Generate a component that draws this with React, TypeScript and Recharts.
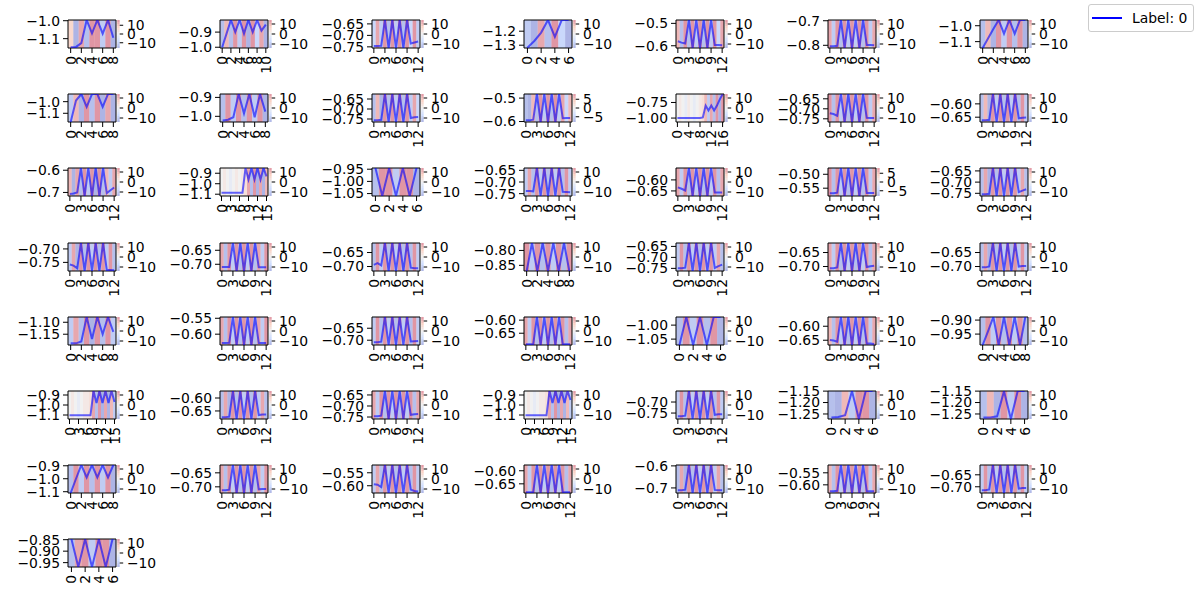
import React from 'react';
import { ComposedChart, Line, XAxis, YAxis, ReferenceArea, Legend } from 'recharts';

// ---------- data ----------
const seriesValues: number[][] = [
  [-1.148, -1.146, -1.125, -0.996, -1.07, -0.996, -1.072, -0.996, -1.095],
  [-1.0, -0.91, -0.82, -0.9, -0.82, -0.91, -0.82, -0.9, -0.82, -0.89, -0.85],
  [-0.746, -0.746, -0.745, -0.633, -0.755, -0.633, -0.755, -0.633, -0.755, -0.633, -0.735, -0.731, -0.727],
  [-1.318, -1.27, -1.21, -1.12, -1.24, -1.12, -1.12],
  [-0.58, -0.586, -0.59, -0.485, -0.61, -0.485, -0.61, -0.485, -0.61, -0.485, -0.597, -0.597, -0.598],
  [-0.804, -0.804, -0.802, -0.697, -0.811, -0.697, -0.811, -0.697, -0.811, -0.697, -0.799, -0.799, -0.8],
  [-1.14, -1.08, -1.02, -0.964, -1.05, -0.964, -1.05, -0.964, -0.964],
  [-1.175, -0.99, -0.934, -1.045, -0.934, -0.934, -1.045, -0.934, -0.934],
  [-1.022, -1.018, -1.005, -0.882, -0.985, -0.882, -1.005, -0.882, -0.975],
  [-0.756, -0.756, -0.754, -0.625, -0.765, -0.625, -0.765, -0.625, -0.765, -0.625, -0.745, -0.741, -0.74],
  [-0.595, -0.595, -0.592, -0.4825, -0.602, -0.4825, -0.602, -0.4825, -0.602, -0.4825, -0.586, -0.585, -0.585],
  [-1.0, -1.0, -1.0, -1.0, -1.0, -1.0, -1.0, -1.0, -1.0, -0.99, -0.8, -0.88, -0.8, -0.88, -0.8, -0.7, -0.62],
  [-0.722, -0.726, -0.735, -0.626, -0.766, -0.626, -0.766, -0.626, -0.766, -0.626, -0.745, -0.746, -0.746],
  [-0.661, -0.661, -0.66, -0.563, -0.668, -0.563, -0.668, -0.563, -0.668, -0.563, -0.654, -0.652, -0.651],
  [-0.707, -0.705, -0.7, -0.59, -0.716, -0.59, -0.716, -0.59, -0.716, -0.59, -0.703, -0.69, -0.678],
  [-1.085, -1.085, -1.085, -1.085, -1.085, -1.085, -1.085, -1.085, -0.85, -0.96, -0.85, -0.96, -0.85, -0.96, -0.85, -0.93],
  [-0.945, -1.06, -0.945, -1.06, -0.945, -1.06, -0.945],
  [-0.739, -0.739, -0.74, -0.64, -0.76, -0.64, -0.76, -0.64, -0.76, -0.64, -0.742, -0.743, -0.744],
  [-0.634, -0.64, -0.648, -0.546, -0.673, -0.546, -0.673, -0.546, -0.673, -0.546, -0.657, -0.657, -0.657],
  [-0.568, -0.568, -0.566, -0.4775, -0.578, -0.4775, -0.578, -0.4775, -0.578, -0.4775, -0.567, -0.567, -0.567],
  [-0.754, -0.754, -0.752, -0.637, -0.762, -0.637, -0.762, -0.637, -0.762, -0.637, -0.745, -0.738, -0.732],
  [-0.758, -0.762, -0.772, -0.678, -0.782, -0.678, -0.782, -0.678, -0.782, -0.678, -0.778, -0.778, -0.779],
  [-0.71, -0.71, -0.71, -0.624, -0.724, -0.624, -0.724, -0.624, -0.724, -0.624, -0.711, -0.711, -0.711],
  [-0.694, -0.688, -0.696, -0.616, -0.716, -0.616, -0.716, -0.616, -0.716, -0.616, -0.704, -0.706, -0.706],
  [-0.869, -0.775, -0.869, -0.775, -0.869, -0.775, -0.869, -0.775, -0.869],
  [-0.749, -0.749, -0.747, -0.6345, -0.762, -0.6345, -0.762, -0.6345, -0.762, -0.6345, -0.748, -0.74, -0.733],
  [-0.706, -0.706, -0.703, -0.616, -0.716, -0.616, -0.716, -0.616, -0.716, -0.616, -0.702, -0.699, -0.697],
  [-0.703, -0.703, -0.7, -0.616, -0.716, -0.616, -0.716, -0.616, -0.716, -0.616, -0.7, -0.698, -0.698],
  [-1.188, -1.188, -1.18, -1.078, -1.17, -1.078, -1.15, -1.078, -1.14],
  [-0.628, -0.628, -0.627, -0.546, -0.634, -0.546, -0.634, -0.546, -0.634, -0.546, -0.628, -0.628, -0.628],
  [-0.708, -0.708, -0.706, -0.603, -0.72, -0.603, -0.72, -0.603, -0.72, -0.603, -0.705, -0.704, -0.703],
  [-0.692, -0.692, -0.692, -0.588, -0.695, -0.588, -0.695, -0.588, -0.695, -0.588, -0.692, -0.692, -0.692],
  [-1.071, -0.971, -1.071, -0.971, -1.071, -0.971, -0.971],
  [-0.649, -0.651, -0.655, -0.567, -0.667, -0.567, -0.667, -0.567, -0.667, -0.567, -0.662, -0.662, -0.663],
  [-0.989, -0.94, -0.889, -0.989, -0.889, -0.989, -0.889, -0.989, -0.889],
  [-1.103, -1.103, -1.103, -1.103, -1.103, -1.103, -1.103, -1.103, -0.86, -0.98, -0.86, -0.98, -0.86, -0.98, -0.86, -0.97],
  [-0.674, -0.674, -0.672, -0.573, -0.681, -0.573, -0.681, -0.573, -0.681, -0.573, -0.666, -0.664, -0.664],
  [-0.746, -0.746, -0.744, -0.632, -0.759, -0.632, -0.759, -0.632, -0.759, -0.632, -0.74, -0.737, -0.736],
  [-1.103, -1.103, -1.103, -1.103, -1.103, -1.103, -1.103, -1.103, -0.86, -0.98, -0.86, -0.98, -0.86, -0.98, -0.86, -0.95],
  [-0.764, -0.764, -0.762, -0.65, -0.777, -0.65, -0.777, -0.65, -0.777, -0.65, -0.758, -0.756, -0.756],
  [-1.265, -1.263, -1.255, -1.15, -1.272, -1.15, -1.15],
  [-1.265, -1.265, -1.26, -1.15, -1.272, -1.15, -1.15],
  [-1.11, -1.0, -0.894, -0.99, -0.894, -0.99, -0.894, -0.99, -0.894],
  [-0.712, -0.712, -0.71, -0.622, -0.722, -0.622, -0.722, -0.622, -0.722, -0.622, -0.709, -0.708, -0.708],
  [-0.594, -0.596, -0.605, -0.52, -0.628, -0.52, -0.628, -0.52, -0.628, -0.52, -0.615, -0.62, -0.622],
  [-0.682, -0.682, -0.681, -0.578, -0.685, -0.578, -0.685, -0.578, -0.685, -0.578, -0.682, -0.682, -0.682],
  [-0.71, -0.71, -0.708, -0.596, -0.723, -0.596, -0.723, -0.596, -0.723, -0.596, -0.709, -0.71, -0.71],
  [-0.627, -0.627, -0.625, -0.5175, -0.634, -0.5175, -0.634, -0.5175, -0.634, -0.5175, -0.627, -0.627, -0.627],
  [-0.714, -0.714, -0.711, -0.609, -0.726, -0.609, -0.726, -0.609, -0.726, -0.609, -0.708, -0.705, -0.705],
  [-0.847, -0.969, -0.847, -0.969, -0.847, -0.969, -0.847],
];

const cellScores: number[][] = [
  [3, -8, 6, -6, 7, 10, -5, 9, -8],
  [-6, 5, -6, 7, -5, 11, -7, 8, -4, 6, -7],
  [-4, 6, -5, 8, -6, 9, -5, 8, -6, 9, -4, 7, -5],
  [-5, -7, 6, -6, 9, -4, -8],
  [5, -6, 7, -6, 9, -5, 8, -6, 9, -5, 7, -4, 6],
  [6, -5, 8, -6, 9, -5, 8, -5, 9, -6, 7, -5, 6],
  [-6, 5, -7, 8, -5, 9, -6, 8, -7],
  [-5, 5, -7, 8, -6, 9, -8, 6, -8],
  [-6, 7, -5, 8, -6, 10, -5, 8, -7],
  [-6, 5, -7, 8, -6, 9, -5, 8, -6, 9, -5, 6, -4],
  [-6, -8, 5, -6, 8, -5, 9, -6, 8, -5, 6, -4, 5],
  [0, 1, 0, -1, 1, 0, -1, 0, 1, 2, 5, -5, 6, -6, 7, -7, 8],
  [7, -6, 8, -5, 9, -6, 8, -5, 9, -6, 7, -5, 6],
  [-6, 5, -7, 8, -5, 9, -6, 8, -5, 9, -6, 7, -5],
  [5, -7, 6, -6, 9, -5, 10, -7, 8, -6, 5, -5, 6],
  [0, 1, 0, -1, 0, 1, 0, 1, 2, 6, -6, 7, -7, 6, -8, 5],
  [-6, 9, 10, -5, 11, 8, -8],
  [-5, 6, -6, 8, -5, 9, -6, 8, -5, 9, -6, 7, -5],
  [6, -5, 7, -6, 9, -5, 8, -6, 9, -5, 7, -6, 6],
  [7, -6, 8, -5, 9, -6, 8, -5, 9, -6, 7, -5, 6],
  [-6, 6, -7, 8, -6, 9, -5, 8, -6, 9, -5, 6, -6],
  [-5, 6, -7, 8, -6, 9, -5, 8, -6, 9, -5, 7, -6],
  [6, -6, 7, -5, 9, -6, 8, -5, 9, -6, 6, -5, 7],
  [-6, 7, -5, 8, -6, 9, -5, 8, -6, 9, -6, 7, -5],
  [8, -5, 9, -6, 10, -5, 9, -6, 8],
  [-5, 7, -6, 8, -5, 9, -6, 8, -5, 9, -5, 6, -6],
  [6, -5, 7, -6, 9, -5, 8, -6, 9, -5, 7, -6, 6],
  [-6, 6, -7, 8, -6, 9, -5, 8, -6, 9, -5, 7, -5],
  [-5, 6, -6, 9, -7, 10, -6, 8, -5],
  [6, -6, 7, -5, 9, -6, 8, -5, 9, -6, 6, -5, 7],
  [-5, 7, -6, 8, -5, 9, -6, 8, -5, 9, -6, 7, -5],
  [6, -5, 7, -6, 9, -5, 8, -6, 9, -5, 7, -6, 6],
  [-6, 8, -5, 9, -6, 8, -7],
  [5, -6, 7, -5, 9, -6, 8, -5, 9, -6, 7, -5, 6],
  [-6, 8, -5, 9, -6, 8, -5, 9, -6],
  [0, 1, 0, -1, 0, 1, 1, 2, 6, -6, 7, -7, 6, -8, 5, -5],
  [-6, 6, -7, 8, -6, 9, -5, 8, -6, 9, -5, 6, -6],
  [6, -5, 7, -6, 9, -5, 8, -6, 9, -5, 7, -6, 6],
  [0, 1, 0, -1, 0, 1, 1, 2, 6, -6, 7, -7, 6, -8, 5, -5],
  [-5, 7, -6, 8, -5, 9, -6, 8, -5, 9, -6, 7, -5],
  [-6, -7, 5, -5, 10, 8, -9],
  [-6, 5, -7, 8, -5, 9, -9],
  [-6, 7, -5, 8, -6, 9, -5, 8, -7],
  [6, -6, 7, -5, 9, -6, 8, -5, 9, -6, 6, -5, 7],
  [-5, 6, -6, 8, -5, 9, -6, 8, -5, 9, -6, 7, -5],
  [6, -5, 7, -6, 9, -5, 8, -6, 9, -5, 7, -6, 6],
  [-6, 6, -7, 8, -6, 9, -5, 8, -6, 9, -5, 6, -6],
  [5, -6, 7, -5, 9, -6, 8, -5, 9, -6, 7, -5, 6],
  [-5, 7, -6, 8, -5, 9, -6, 8, -5, 9, -6, 7, -5],
  [-6, 6, 8, -5, 9, 10, -8],
];

const yLow: number[] = [
  -1.152, -1.005, -0.755, -1.32, -0.61, -0.811, -1.14,
  -1.175, -1.03, -0.765, -0.602, -1.063, -0.766, -0.668,
  -0.716, -1.117, -1.06, -0.76, -0.673, -0.578, -0.762,
  -0.782, -0.724, -0.716, -0.869, -0.762, -0.716, -0.716,
  -1.195, -0.634, -0.72, -0.695, -1.071, -0.667, -0.989,
  -1.14, -0.681, -0.759, -1.14, -0.777, -1.272, -1.272,
  -1.11, -0.722, -0.628, -0.685, -0.723, -0.634, -0.726,
  -0.969,
];

const yHigh: number[] = [
  -0.996, -0.82, -0.633, -1.12, -0.485, -0.697, -0.964,
  -0.934, -0.882, -0.625, -0.4825, -0.614, -0.626, -0.563,
  -0.59, -0.85, -0.945, -0.64, -0.546, -0.4775, -0.637,
  -0.678, -0.624, -0.616, -0.775, -0.6345, -0.616, -0.616,
  -1.078, -0.546, -0.603, -0.588, -0.971, -0.567, -0.889,
  -0.86, -0.573, -0.632, -0.86, -0.65, -1.1495, -1.1495,
  -0.894, -0.622, -0.52, -0.578, -0.596, -0.5175, -0.609,
  -0.847,
];

const yTickValues: number[][] = [
  [-1.1, -1.0], [-1.0, -0.9], [-0.75, -0.7, -0.65], [-1.3, -1.2], [-0.6, -0.5], [-0.8, -0.7], [-1.1, -1.0],
  [-1.1, -1.0], [-1.0, -0.9], [-0.75, -0.7, -0.65], [-0.6, -0.5], [-1.0, -0.75], [-0.75, -0.7, -0.65], [-0.65, -0.6],
  [-0.7, -0.6], [-1.1, -1.0, -0.9], [-1.05, -1.0, -0.95], [-0.75, -0.7, -0.65], [-0.65, -0.6], [-0.55, -0.5], [-0.75, -0.7, -0.65],
  [-0.75, -0.7], [-0.7, -0.65], [-0.7, -0.65], [-0.85, -0.8], [-0.75, -0.7, -0.65], [-0.7, -0.65], [-0.7, -0.65],
  [-1.15, -1.1], [-0.6, -0.55], [-0.7, -0.65], [-0.65, -0.6], [-1.05, -1.0], [-0.65, -0.6], [-0.95, -0.9],
  [-1.1, -1.0, -0.9], [-0.65, -0.6], [-0.75, -0.7, -0.65], [-1.1, -1.0, -0.9], [-0.75, -0.7], [-1.25, -1.2, -1.15], [-1.25, -1.2, -1.15],
  [-1.1, -1.0, -0.9], [-0.7, -0.65], [-0.6, -0.55], [-0.65, -0.6], [-0.7, -0.6], [-0.6, -0.55], [-0.7, -0.65],
  [-0.95, -0.9, -0.85],
];

const xTickStep: number[] = [
  2, 2, 3, 2, 3, 3, 2,
  2, 2, 3, 3, 4, 3, 3,
  3, 3, 2, 3, 3, 3, 3,
  3, 3, 3, 2, 3, 3, 3,
  2, 3, 3, 3, 2, 3, 2,
  3, 3, 3, 3, 3, 2, 2,
  2, 3, 3, 3, 3, 3, 3,
  2,
];

const colorLimit: number[] = [
  16, 14, 14, 14, 14, 14, 14,
  14, 14, 14, 8, 14, 14, 14,
  14, 14, 14, 14, 14, 8, 14,
  14, 14, 14, 14, 14, 14, 14,
  14, 14, 14, 14, 14, 14, 14,
  14, 14, 14, 14, 14, 14, 14,
  14, 14, 14, 14, 14, 14, 14,
  14,
];
const colorbarTicksWide = [-10, 0, 10];
const colorbarTicksNarrow = [-5, 0, 5];
const legendLabel = 'Label: 0';

// ---------- layout / style ----------
const FONT = 13.9;
const FONT_FAMILY = '"DejaVu Sans", sans-serif';
const GRID_X0 = 68;
const GRID_DX = 152;
const GRID_Y0 = 20;
const GRID_DY = 74.2;
const PLOT_W = 48;
const PLOT_H = 28;
const AXIS_W = 62;
const PAD_T = 10;
const XAXIS_H = 34;
const CB_AXIS_W = 48;
const CB_GAP = 1.2;
const CB_W = 2.5;
const CB_SLICES = 14;
const CELL_NORM = 7;
const CELL_ALPHA = 0.42;
const COLS = 7;

const COOLWARM: number[][] = [
  [0, 59, 76, 192],
  [0.25, 141, 176, 254],
  [0.5, 221, 221, 221],
  [0.75, 244, 152, 122],
  [1, 180, 4, 38],
];

function coolwarm(t: number): string {
  const u = Math.max(0, Math.min(1, t));
  for (let i = 0; i < COOLWARM.length - 1; i++) {
    const a = COOLWARM[i];
    const b = COOLWARM[i + 1];
    if (u <= b[0]) {
      const f = (u - a[0]) / (b[0] - a[0]);
      const r = Math.round(a[1] + (b[1] - a[1]) * f);
      const g = Math.round(a[2] + (b[2] - a[2]) * f);
      const bl = Math.round(a[3] + (b[3] - a[3]) * f);
      return `rgb(${r},${g},${bl})`;
    }
  }
  return 'rgb(180,4,38)';
}

const minusFmt = (v: number, dec: number) => (v < 0 ? '\u2212' : '') + Math.abs(v).toFixed(dec);

const RotTick = (props: any) => {
  const { x, y, payload } = props;
  return (
    <text
      x={x}
      y={y}
      transform={`rotate(-90, ${x}, ${y})`}
      textAnchor="end"
      dominantBaseline="central"
      fontSize={FONT}
      fontFamily={FONT_FAMILY}
      fill="#000"
    >
      {payload.value}
    </text>
  );
};

const CbTick = (props: any) => {
  const { x, y, payload } = props;
  const x0 = x + CB_GAP + CB_W;
  return (
    <g>
      <line x1={x0} x2={x0 + 3.5} y1={y} y2={y} stroke="#000" strokeWidth={1} />
      <text
        x={x0 + 7.2}
        y={y}
        dominantBaseline="central"
        textAnchor="start"
        fontSize={FONT}
        fontFamily={FONT_FAMILY}
        fill="#000"
      >
        {minusFmt(payload.value, 0)}
      </text>
    </g>
  );
};

function Panel({ idx }: { idx: number }) {
  const values = seriesValues[idx];
  const scores = cellScores[idx];
  const n = values.length;
  const data = values.map((v, k) => ({ t: k, v }));
  const row = Math.floor(idx / COLS);
  const col = idx % COLS;
  const left = GRID_X0 + col * GRID_DX;
  const top = GRID_Y0 + row * GRID_DY;
  const lo = yLow[idx];
  const hi = yHigh[idx];
  const ticksY = yTickValues[idx];
  const stepY = Math.abs(ticksY[1] - ticksY[0]);
  const dec = Math.abs(stepY * 10 - Math.round(stepY * 10)) < 1e-6 ? 1 : 2;
  const ticksX: number[] = [];
  for (let k = 0; k < n; k += xTickStep[idx]) ticksX.push(k);
  const lim = colorLimit[idx];
  const cbTicks = lim >= 10 ? colorbarTicksWide : colorbarTicksNarrow;
  const unit = n / PLOT_W; // x data units per pixel
  const xMax = n - 0.5;
  const slices: number[] = [];
  for (let k = 0; k < CB_SLICES; k++) slices.push(k);

  return (
    <div style={{ position: 'absolute', left: left - AXIS_W, top: top - PAD_T }}>
      <ComposedChart
        width={AXIS_W + PLOT_W + CB_AXIS_W}
        height={PAD_T + PLOT_H + XAXIS_H}
        data={data}
        margin={{ top: PAD_T, right: 0, bottom: 0, left: 0 }}
      >
        <XAxis
          type="number"
          dataKey="t"
          domain={[-0.5, xMax]}
          allowDataOverflow
          ticks={ticksX}
          interval={0}
          height={XAXIS_H}
          axisLine={false}
          tickLine={{ stroke: '#000', strokeWidth: 1 }}
          tickSize={5}
          tickMargin={3}
          tick={(p: any) => <RotTick {...p} />}
        />
        <YAxis
          yAxisId="main"
          type="number"
          domain={[lo, hi]}
          allowDataOverflow
          ticks={ticksY}
          interval={0}
          width={AXIS_W}
          axisLine={false}
          tickLine={{ stroke: '#000', strokeWidth: 1 }}
          tickSize={5}
          tickMargin={3}
          tick={{ fontSize: FONT, fill: '#000', fontFamily: FONT_FAMILY }}
          tickFormatter={(v: number) => minusFmt(v, dec)}
        />
        <YAxis
          yAxisId="cb"
          orientation="right"
          type="number"
          domain={[-lim, lim]}
          allowDataOverflow
          ticks={cbTicks}
          interval={0}
          width={CB_AXIS_W}
          axisLine={false}
          tickLine={false}
          tickSize={0}
          tickMargin={0}
          tick={(p: any) => <CbTick {...p} />}
        />
        {scores.map((s, k) => (
          <ReferenceArea
            key={`c${k}`}
            yAxisId="main"
            x1={k - 0.5}
            x2={k + 0.5}
            y1={lo}
            y2={hi}
            fill={coolwarm((s / CELL_NORM + 1) / 2)}
            fillOpacity={CELL_ALPHA}
            stroke="none"
            ifOverflow="hidden"
          />
        ))}
        {slices.map((k) => {
          const h = (2 * lim) / CB_SLICES;
          const y1 = -lim + k * h;
          return (
            <ReferenceArea
              key={`s${k}`}
              yAxisId="cb"
              x1={xMax + CB_GAP * unit}
              x2={xMax + (CB_GAP + CB_W) * unit}
              y1={y1}
              y2={y1 + h * 1.02}
              fill={coolwarm((k + 0.5) / CB_SLICES)}
              fillOpacity={CELL_ALPHA}
              stroke="none"
              ifOverflow="visible"
            />
          );
        })}
        <Line
          yAxisId="main"
          dataKey="v"
          type="linear"
          stroke="#0000ff"
          strokeOpacity={0.6}
          strokeWidth={2}
          dot={false}
          activeDot={false}
          isAnimationActive={false}
        />
        <ReferenceArea
          yAxisId="main"
          x1={-0.5}
          x2={xMax}
          y1={lo}
          y2={hi}
          fill="none"
          stroke="#000"
          strokeWidth={1}
          ifOverflow="visible"
        />
      </ComposedChart>
    </div>
  );
}

const LegendBox = (props: any) => {
  const items = props.payload || [];
  return (
    <div
      style={{
        boxSizing: 'border-box',
        width: 106,
        height: 28,
        border: '1px solid #cccccc',
        borderRadius: 3,
        background: 'rgba(255,255,255,0.8)',
        display: 'flex',
        alignItems: 'center',
        paddingLeft: 3,
        fontFamily: FONT_FAMILY,
        fontSize: FONT,
        color: '#000',
      }}
    >
      {items.map((it: any) => (
        <React.Fragment key={String(it.value)}>
          <svg width={30} height={6} style={{ display: 'block' }}>
            <line x1={0} y1={3} x2={30} y2={3} stroke={it.color || '#0000ff'} strokeWidth={2} />
          </svg>
          <span style={{ marginLeft: 10, whiteSpace: 'nowrap' }}>{it.value}</span>
        </React.Fragment>
      ))}
    </div>
  );
};

const legendData = [{ t: 0, v: null }];

export default function App() {
  return (
    <div
      style={{
        position: 'absolute',
        left: 0,
        top: 0,
        width: 1200,
        height: 600,
        background: '#fff',
        overflow: 'hidden',
        fontFamily: FONT_FAMILY,
      }}
    >
      {seriesValues.map((_, i) => (
        <Panel key={i} idx={i} />
      ))}
      <div style={{ position: 'absolute', left: 1088, top: 4 }}>
        <ComposedChart width={106} height={60} data={legendData} margin={{ top: 0, right: 0, bottom: 0, left: 0 }}>
          <Line dataKey="v" name={legendLabel} stroke="#0000ff" strokeWidth={2} dot={false} isAnimationActive={false} />
          <Legend verticalAlign="top" align="left" content={LegendBox} wrapperStyle={{ left: 0, top: 0, width: 106 }} />
        </ComposedChart>
      </div>
    </div>
  );
}
